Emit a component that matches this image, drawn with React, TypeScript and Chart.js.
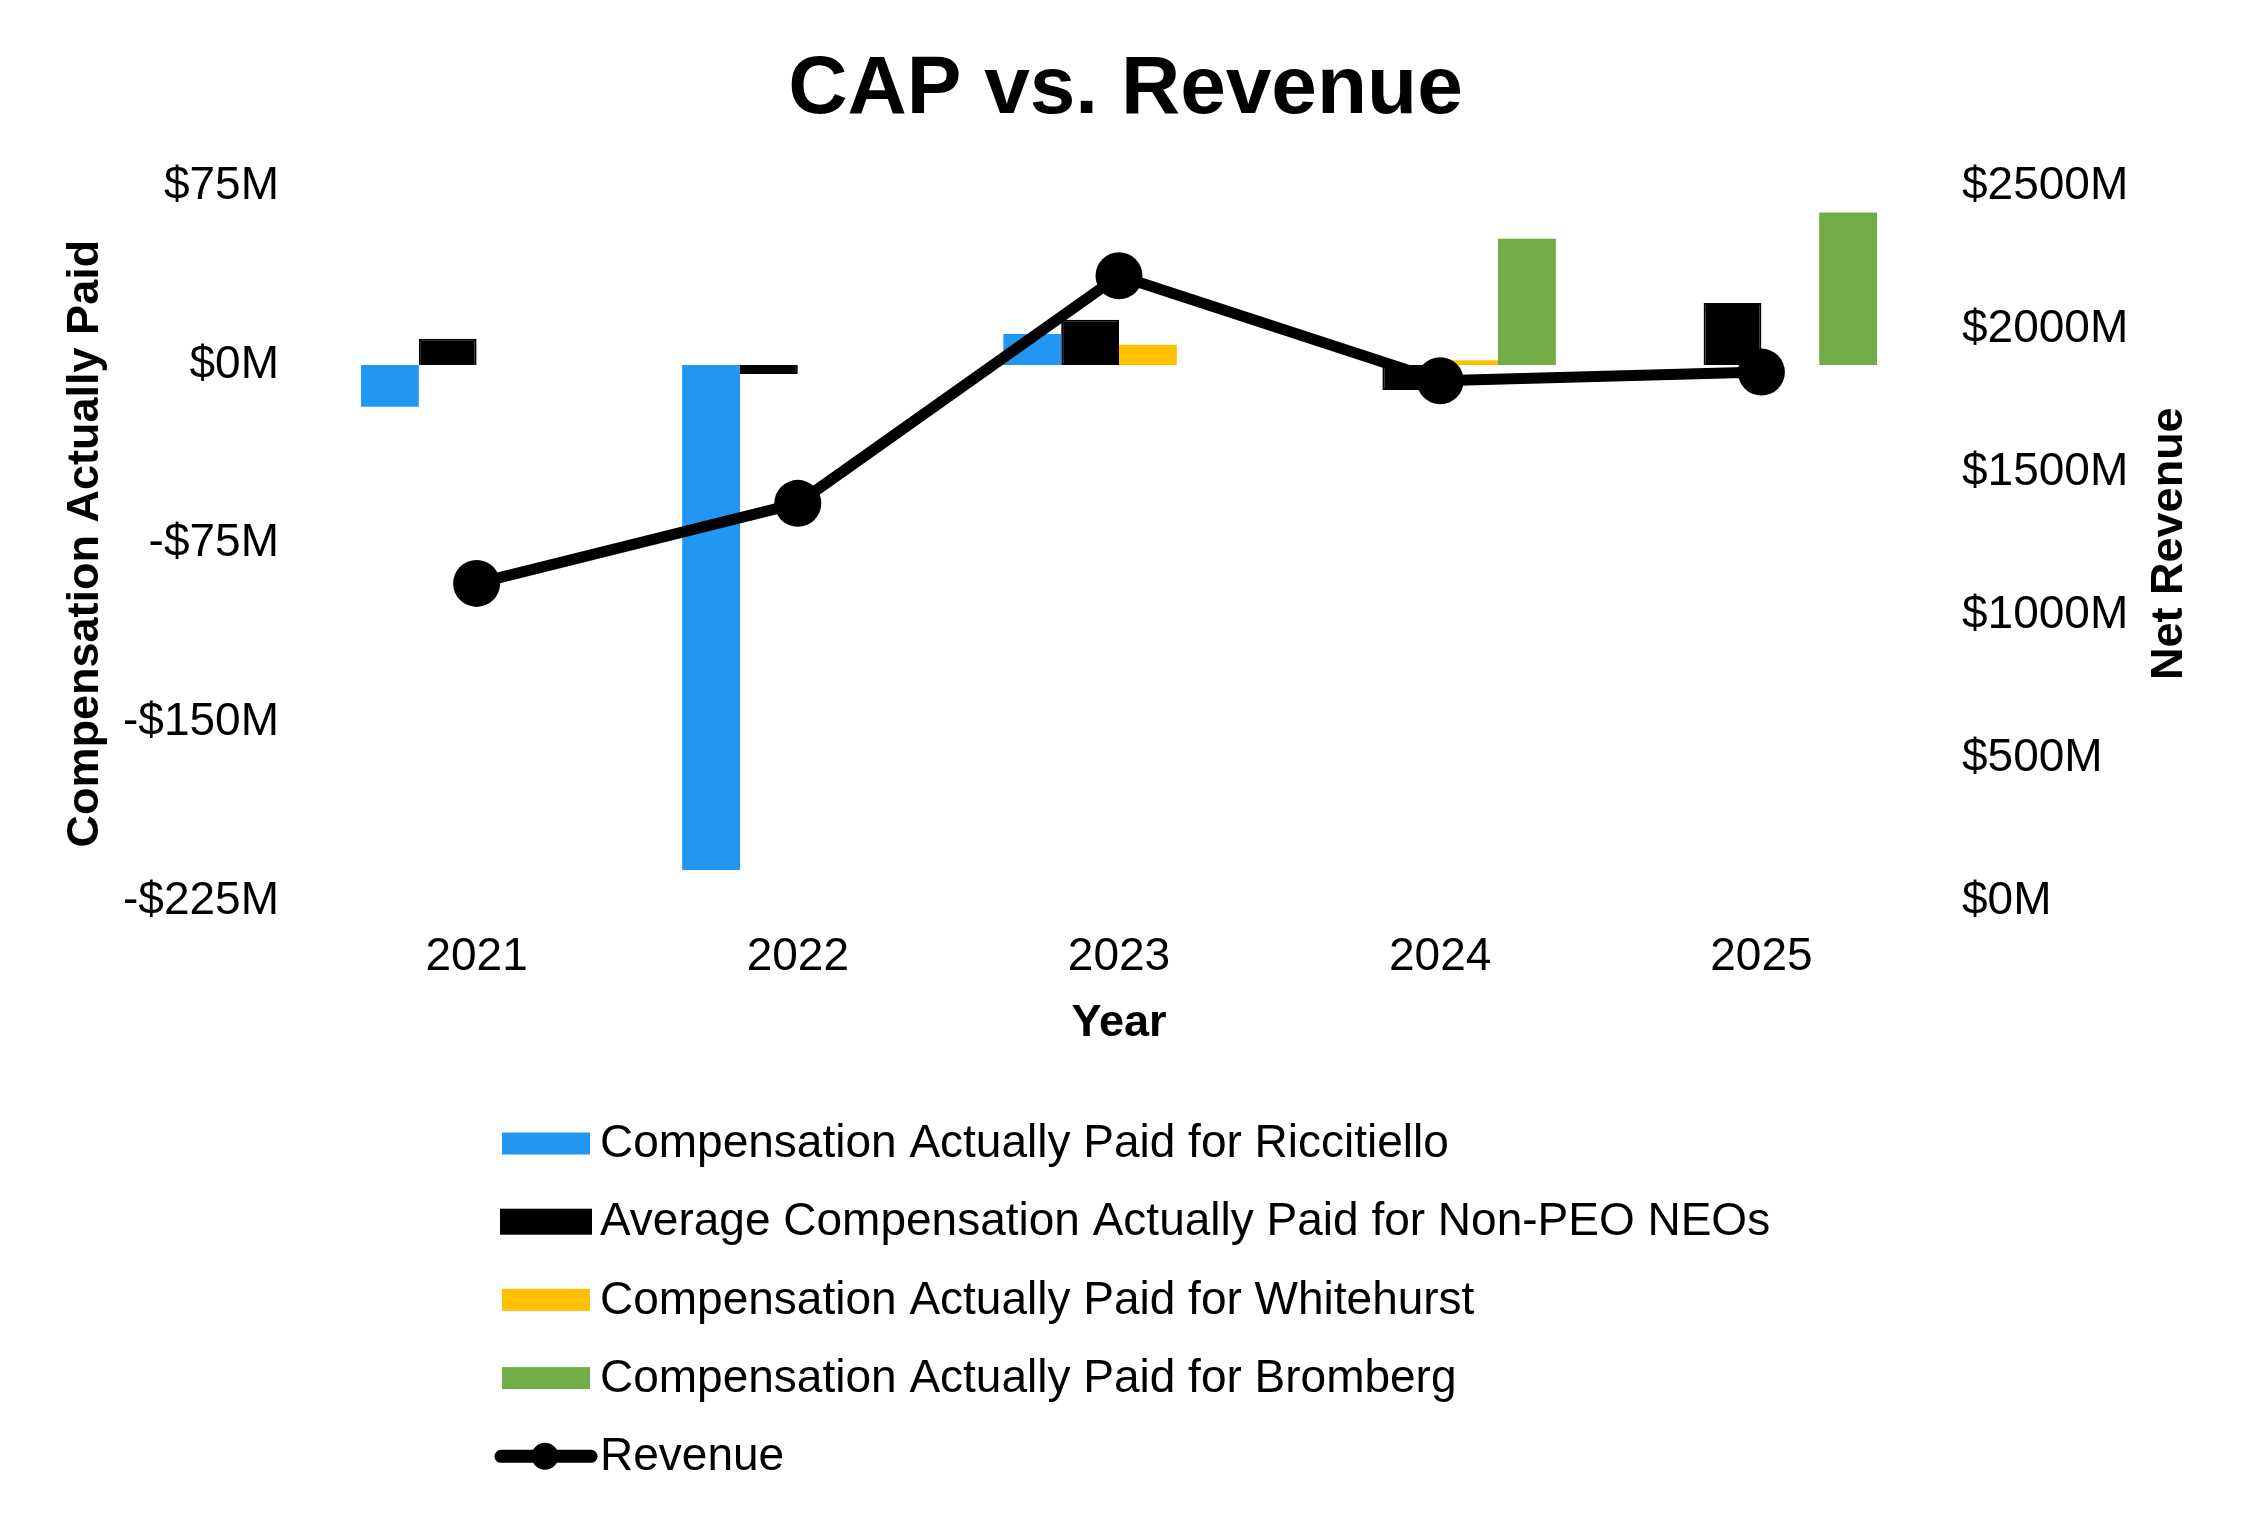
import React, { useEffect, useRef } from 'react';
import { Chart, registerables } from 'chart.js';

Chart.register(...registerables);

const FONT = '"Liberation Sans", Arial, Helvetica, sans-serif';

const years = ['2021', '2022', '2023', '2024', '2025'];
const capRiccitiello = [-17.5, -212, 13, null, null];
const capNonPeoNeos = [11, -3.8, 19, -10.5, 26];
const capWhitehurst = [null, null, 8.5, 2, null];
const capBromberg = [null, null, null, 53, 64];
const netRevenue = [1111, 1391, 2187, 1820, 1850];
const leftTicks = [-225, -150, -75, 0, 75];
const rightTicks = [0, 500, 1000, 1500, 2000, 2500];

const seriesLabels = [
  'Compensation Actually Paid for Riccitiello',
  'Average Compensation Actually Paid for Non-PEO NEOs',
  'Compensation Actually Paid for Whitehurst',
  'Compensation Actually Paid for Bromberg',
  'Revenue',
];
const seriesColors = ['#2196F3', '#000000', '#FFC000', '#70AD47', '#000000'];

const fmtLeft = (v: number) => (v < 0 ? `-$${-v}M` : `$${v}M`);
const fmtRight = (v: number) => `$${v}M`;

const customDraw = {
  id: 'customDraw',
  afterDraw(chart: any) {
    const ctx = chart.ctx;
    const ca = chart.chartArea;
    const y1 = chart.scales.y1;
    // right axis title, rotated bottom-to-top
    ctx.save();
    ctx.translate(y1.left + 248, (ca.top + ca.bottom) / 2);
    ctx.rotate(-Math.PI / 2);
    ctx.font = `bold 45px ${FONT}`;
    ctx.textAlign = 'center';
    ctx.textBaseline = 'middle';
    ctx.fillStyle = '#000';
    ctx.fillText('Net Revenue', 0, 0);
    ctx.restore();

    // legend, one item per row
    const rowStart = chart.height - 361.5;
    const rowStep = 78.2;
    const boxX = 494;
    const boxW = 88;
    const boxH = 22;
    const textX = 592;
    ctx.save();
    ctx.font = `46px ${FONT}`;
    ctx.textBaseline = 'middle';
    ctx.textAlign = 'left';
    seriesLabels.forEach((label, i) => {
      const cy = rowStart + i * rowStep;
      const color = seriesColors[i];
      if (i < 4) {
        ctx.fillStyle = color;
        if (i === 1) {
          ctx.fillRect(boxX - 2, cy - boxH / 2 - 2, boxW + 4, boxH + 4);
        } else {
          ctx.fillRect(boxX, cy - boxH / 2, boxW, boxH);
        }
      } else {
        ctx.strokeStyle = color;
        ctx.lineWidth = 13;
        ctx.lineCap = 'round';
        ctx.beginPath();
        ctx.moveTo(boxX - 1, cy);
        ctx.lineTo(boxX + boxW + 1, cy);
        ctx.stroke();
        ctx.fillStyle = color;
        ctx.beginPath();
        ctx.arc(boxX + 43, cy, 13.5, 0, Math.PI * 2);
        ctx.fill();
      }
      ctx.fillStyle = '#000';
      ctx.fillText(label, textX, cy + 1);
    });
    ctx.restore();
  },
};

export default function App() {
  const canvasRef = useRef<HTMLCanvasElement | null>(null);

  useEffect(() => {
    if (!canvasRef.current) return;
    const barCommon = {
      type: 'bar' as const,
      yAxisID: 'y',
      order: 1,
      barPercentage: 1.0,
      categoryPercentage: 0.72,
      borderWidth: 0,
    };
    const chart = new Chart(canvasRef.current, {
      type: 'bar',
      data: {
        labels: years,
        datasets: [
          { ...barCommon, label: seriesLabels[0], data: capRiccitiello, backgroundColor: seriesColors[0] },
          {
            ...barCommon,
            label: seriesLabels[1],
            data: capNonPeoNeos,
            backgroundColor: seriesColors[1],
            borderColor: seriesColors[1],
            borderWidth: 2,
          },
          { ...barCommon, label: seriesLabels[2], data: capWhitehurst, backgroundColor: seriesColors[2] },
          { ...barCommon, label: seriesLabels[3], data: capBromberg, backgroundColor: seriesColors[3] },
          {
            type: 'line' as const,
            label: seriesLabels[4],
            data: netRevenue,
            yAxisID: 'y1',
            order: 0,
            borderColor: seriesColors[4],
            backgroundColor: seriesColors[4],
            borderWidth: 11,
            pointRadius: 23.5,
            pointBorderWidth: 0,
            pointBackgroundColor: seriesColors[4],
            tension: 0,
          },
        ] as any,
      },
      plugins: [customDraw],
      options: {
        animation: false,
        responsive: true,
        maintainAspectRatio: false,
        layout: { padding: { left: 0, right: 0, top: 0, bottom: 449 } },
        plugins: {
          legend: { display: false },
          tooltip: { enabled: false },
          title: {
            display: true,
            text: 'CAP vs. Revenue',
            color: '#000',
            font: { family: FONT, size: 82, weight: 'bold', lineHeight: 1.2 },
            padding: { top: 32.8, bottom: 47.1 },
          },
        },
        scales: {
          x: {
            grid: { display: false, drawTicks: false },
            border: { display: false },
            ticks: { color: '#000', font: { family: FONT, size: 46 }, padding: 29 },
            title: {
              display: true,
              text: 'Year',
              color: '#000',
              font: { family: FONT, size: 45, weight: 'bold', lineHeight: 1.2 },
              padding: { top: 4, bottom: 5 },
            },
            afterFit: (s: any) => {
              s.height = 155;
            },
          },
          y: {
            position: 'left',
            min: leftTicks[0],
            max: leftTicks[leftTicks.length - 1],
            grid: { display: false, drawTicks: false },
            border: { display: false },
            afterBuildTicks: (s: any) => {
              s.ticks = leftTicks.map((v) => ({ value: v }));
            },
            ticks: {
              color: '#000',
              font: { family: FONT, size: 46 },
              padding: 37,
              callback: (v: any) => fmtLeft(Number(v)),
            },
            title: {
              display: true,
              text: 'Compensation Actually Paid',
              color: '#000',
              font: { family: FONT, size: 45, weight: 'bold', lineHeight: 1.2 },
              padding: { top: 51, bottom: 4 },
            },
            afterFit: (s: any) => {
              s.width = 308;
            },
          },
          y1: {
            position: 'right',
            min: rightTicks[0],
            max: rightTicks[rightTicks.length - 1],
            grid: { display: false, drawTicks: false },
            border: { display: false },
            afterBuildTicks: (s: any) => {
              s.ticks = rightTicks.map((v) => ({ value: v }));
            },
            ticks: {
              color: '#000',
              font: { family: FONT, size: 46 },
              padding: 40,
              callback: (v: any) => fmtRight(Number(v)),
            },
            afterFit: (s: any) => {
              s.width = 321;
            },
          },
        },
      } as any,
    });
    return () => chart.destroy();
  }, []);

  return (
    <div style={{ width: 2235, height: 1497, position: 'relative' }}>
      <canvas ref={canvasRef} />
    </div>
  );
}
